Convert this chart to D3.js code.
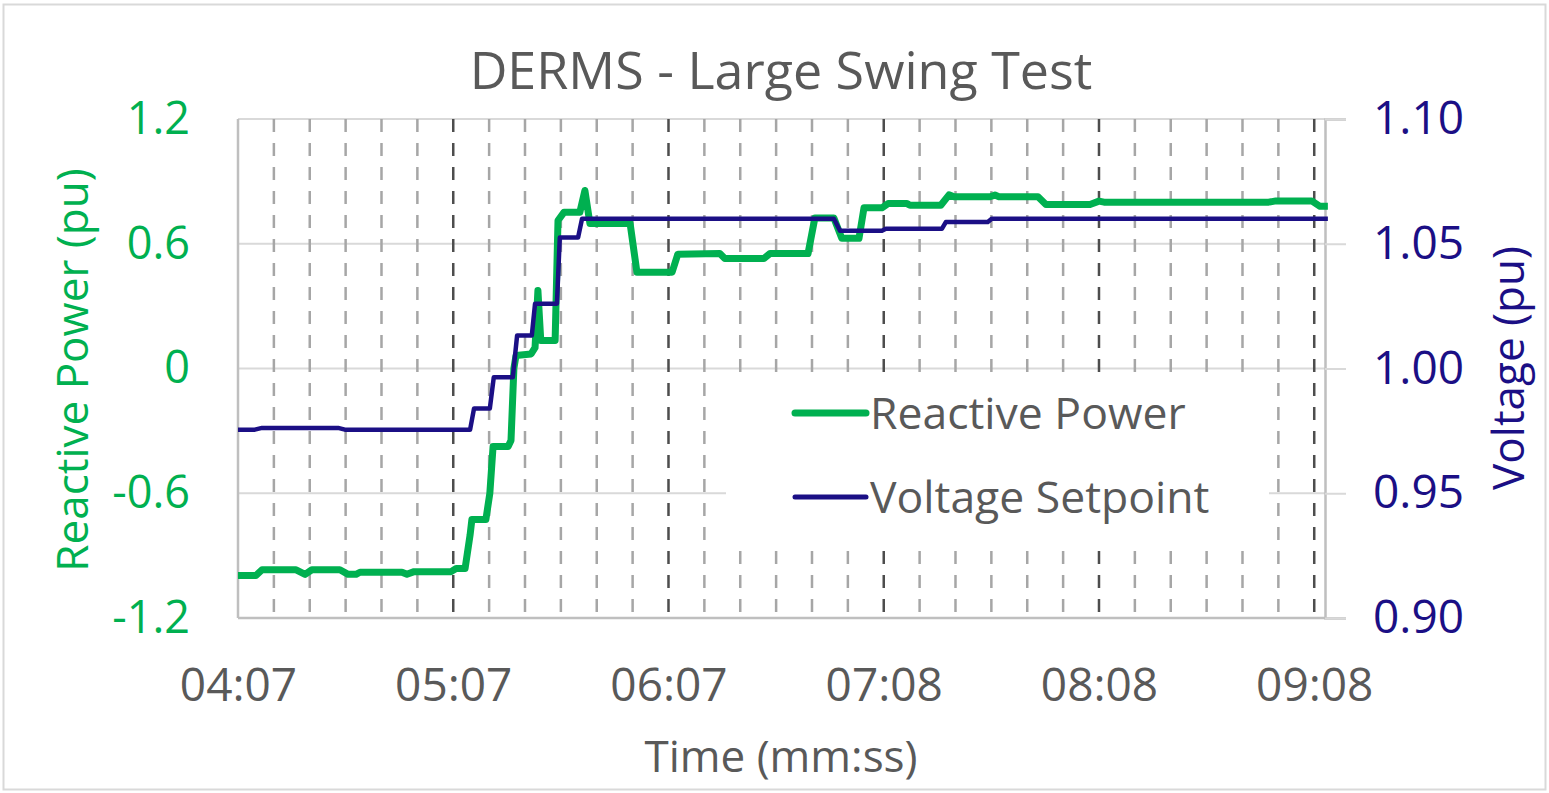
<!DOCTYPE html>
<html>
<head>
  <title>DERMS - Large Swing Test</title>
  <style>
    html, body {
      margin: 0;
      padding: 0;
      width: 100%;
      height: 100%;
      overflow: hidden;
      background: #fff;
    }
    text {
      font-family: "Open Sans", "Noto Sans", sans-serif;
    }
  </style>
  <script src="https://d3js.org/d3.v7.min.js"></script>
</head>
<body>
  <div id="chart"></div>

  <script>
    // time in seconds after 04:07
    const qTime = [0, 5, 6.7, 16.2, 18.7, 20.6, 28.4, 30.7, 32.9, 34, 45.7, 47.1, 49.1, 59.4, 60.8, 63.3,
      64.7, 65.2, 69.1, 70.2, 71.1, 75.3, 76.1, 76.9, 77.5, 81.7, 82.8, 83.6, 84.4, 88.4, 89.2, 90.9,
      95.3, 96.7, 98.1, 109.3, 111.2, 121, 122.6, 134.3, 135.7, 146.6, 148.3, 158.9, 160.8, 166.1,
      168.3, 173.1, 174.5, 179.5, 181.2, 186.5, 187.3, 195.9, 198.2, 199.6, 209.6, 211, 212.1, 223,
      225.2, 237.5, 240, 241.4, 287.3, 289.3, 299.3, 301.6, 303.8];
    const qValue = [-0.996, -0.996, -0.968, -0.968, -0.99, -0.968, -0.968, -0.99, -0.99, -0.98, -0.98, -0.99, -0.977, -0.977, -0.962, -0.962,
      -0.8, -0.726, -0.726, -0.6, -0.375, -0.375, -0.346, 0, 0.0625, 0.07, 0.1, 0.375, 0.135, 0.135, 0.712, 0.752,
      0.752, 0.856, 0.697, 0.697, 0.463, 0.463, 0.55, 0.553, 0.529, 0.529, 0.553, 0.553, 0.724, 0.724,
      0.626, 0.626, 0.773, 0.773, 0.793, 0.793, 0.785, 0.785, 0.835, 0.826, 0.826, 0.834, 0.826, 0.826,
      0.789, 0.789, 0.805, 0.8, 0.8, 0.806, 0.806, 0.78, 0.78];

    const vTime = [0, 4.7, 6.7, 27.9, 29.8, 64.7, 65.8, 70.2, 71.3, 76.6, 77.8, 81.9, 82.8, 88.9, 89.7,
      94.8, 95.9, 166.1, 167.8, 179.5, 180.6, 196.2, 197.3, 209, 210.1, 303.8];
    const vValue = [0.9755, 0.9755, 0.9762, 0.9762, 0.9755, 0.9755, 0.984, 0.984, 0.9965, 0.9965, 1.0132, 1.0132, 1.026, 1.026, 1.0525,
      1.0525, 1.06, 1.06, 1.0552, 1.0552, 1.056, 1.056, 1.0587, 1.0587, 1.06, 1.06];

    const xTicks = [0, 60, 120, 180, 240, 300];
    const xTickLabels = ["04:07", "05:07", "06:07", "07:08", "08:08", "09:08"];
    const qTicks = [-1.2, -0.6, 0, 0.6, 1.2];
    const qTickLabels = ["-1.2", "-0.6", "0", "0.6", "1.2"];
    const vTicks = [0.9, 0.95, 1.0, 1.05, 1.1];
    const vTickLabels = ["0.90", "0.95", "1.00", "1.05", "1.10"];
    const seriesNames = ["Reactive Power", "Voltage Setpoint"];

    const green = "#00b050";
    const navy = "#1b0f85";
    const textGray = "#595959";

    const width = 1549, height = 793;
    const plotLeft = 238, plotRight = 1325, plotTop = 119, plotBottom = 618;

    const svg = d3.select("#chart").append("svg")
      .attr("width", width)
      .attr("height", height);

    // chart frame
    svg.append("rect")
      .attr("x", 3.5).attr("y", 4.5)
      .attr("width", width - 7).attr("height", height - 8)
      .attr("fill", "#fff")
      .attr("stroke", "#d9d9d9")
      .attr("stroke-width", 2);

    const x = d3.scaleLinear().domain([0, 303]).range([plotLeft, plotRight]);
    const yQ = d3.scaleLinear().domain([-1.2, 1.2]).range([plotBottom, plotTop]);
    const yV = d3.scaleLinear().domain([0.9, 1.1]).range([plotBottom, plotTop]);

    // horizontal gridlines
    svg.append("g").selectAll("line")
      .data(qTicks)
      .join("line")
      .attr("x1", plotLeft).attr("x2", plotRight)
      .attr("y1", d => yQ(d)).attr("y2", d => yQ(d))
      .attr("stroke", "#d9d9d9")
      .attr("stroke-width", 2);

    // vertical dashed gridlines, minor every 10 s, major every 60 s
    const minor = d3.range(10, 303, 10).filter(d => d % 60 !== 0);
    svg.append("g").selectAll("line")
      .data(minor)
      .join("line")
      .attr("x1", d => x(d)).attr("x2", d => x(d))
      .attr("y1", plotTop).attr("y2", plotBottom)
      .attr("stroke", "#a6a6a6")
      .attr("stroke-width", 2.5)
      .attr("stroke-dasharray", "13,11");

    svg.append("g").selectAll("line")
      .data(xTicks.slice(1))
      .join("line")
      .attr("x1", d => x(d)).attr("x2", d => x(d))
      .attr("y1", plotTop).attr("y2", plotBottom)
      .attr("stroke", "#4d4d4d")
      .attr("stroke-width", 2.5)
      .attr("stroke-dasharray", "13,11");

    // legend box hides gridlines beneath it
    svg.append("rect")
      .attr("x", 726).attr("y", 374)
      .attr("width", 543).attr("height", 168)
      .attr("fill", "#fff");

    // axis lines
    svg.append("line")
      .attr("x1", plotLeft).attr("x2", plotLeft).attr("y1", plotTop).attr("y2", plotBottom)
      .attr("stroke", "#bfbfbf").attr("stroke-width", 2.5);
    svg.append("line")
      .attr("x1", plotLeft).attr("x2", plotRight).attr("y1", plotBottom).attr("y2", plotBottom)
      .attr("stroke", "#bfbfbf").attr("stroke-width", 2.5);

    // right axis with outside ticks
    const rightAxis = svg.append("g")
      .attr("transform", `translate(${plotRight},0)`)
      .call(d3.axisRight(yV).tickValues(vTicks).tickSize(21).tickPadding(27)
        .tickFormat((d, i) => vTickLabels[i]));
    rightAxis.select(".domain").attr("stroke", "#bfbfbf").attr("stroke-width", 2.5);
    rightAxis.selectAll(".tick line").attr("stroke", "#d9d9d9").attr("stroke-width", 2);
    rightAxis.selectAll(".tick text")
      .attr("fill", navy)
      .style("font-size", "46px");

    // left axis
    const leftAxis = svg.append("g")
      .attr("transform", `translate(${plotLeft},0)`)
      .call(d3.axisLeft(yQ).tickValues(qTicks).tickSize(0).tickPadding(48)
        .tickFormat((d, i) => qTickLabels[i]));
    leftAxis.select(".domain").remove();
    leftAxis.selectAll(".tick text")
      .attr("fill", green)
      .style("font-size", "45px");

    // bottom axis
    const bottomAxis = svg.append("g")
      .attr("transform", `translate(0,${plotBottom})`)
      .call(d3.axisBottom(x).tickValues(xTicks).tickSize(0).tickPadding(50)
        .tickFormat((d, i) => xTickLabels[i]));
    bottomAxis.select(".domain").remove();
    bottomAxis.selectAll(".tick text")
      .attr("fill", textGray)
      .style("font-size", "46px");

    // series
    const qData = qTime.map((t, i) => [t, qValue[i]]);
    const vData = vTime.map((t, i) => [t, vValue[i]]);

    svg.append("path")
      .datum(qData)
      .attr("fill", "none")
      .attr("stroke", green)
      .attr("stroke-width", 7)
      .attr("stroke-linejoin", "round")
      .attr("d", d3.line().x(d => x(d[0])).y(d => yQ(d[1])));

    svg.append("path")
      .datum(vData)
      .attr("fill", "none")
      .attr("stroke", navy)
      .attr("stroke-width", 4.5)
      .attr("stroke-linejoin", "round")
      .attr("d", d3.line().x(d => x(d[0])).y(d => yV(d[1])));

    // title
    svg.append("text")
      .attr("x", 781).attr("y", 89)
      .attr("text-anchor", "middle")
      .attr("fill", textGray)
      .style("font-size", "52px")
      .text("DERMS - Large Swing Test");

    // axis titles
    svg.append("text")
      .attr("x", 781).attr("y", 772)
      .attr("text-anchor", "middle")
      .attr("fill", textGray)
      .style("font-size", "44px")
      .text("Time (mm:ss)");

    svg.append("text")
      .attr("transform", "translate(88,370) rotate(-90)")
      .attr("text-anchor", "middle")
      .attr("fill", green)
      .style("font-size", "44px")
      .text("Reactive Power (pu)");

    svg.append("text")
      .attr("transform", "translate(1524,368) rotate(-90)")
      .attr("text-anchor", "middle")
      .attr("fill", navy)
      .style("font-size", "44px")
      .text("Voltage (pu)");

    // legend
    const legend = svg.append("g");
    const legendColors = [green, navy];
    const legendWidths = [7, 5];
    seriesNames.forEach((name, i) => {
      const ly = 413 + i * 84;
      legend.append("line")
        .attr("x1", 795).attr("x2", 866)
        .attr("y1", ly).attr("y2", ly)
        .attr("stroke", legendColors[i])
        .attr("stroke-width", legendWidths[i])
        .attr("stroke-linecap", "round");
      legend.append("text")
        .attr("x", 870).attr("y", ly)
        .attr("dy", "0.35em")
        .attr("fill", textGray)
        .style("font-size", "44.5px")
        .text(name);
    });
  </script>
</body>
</html>
